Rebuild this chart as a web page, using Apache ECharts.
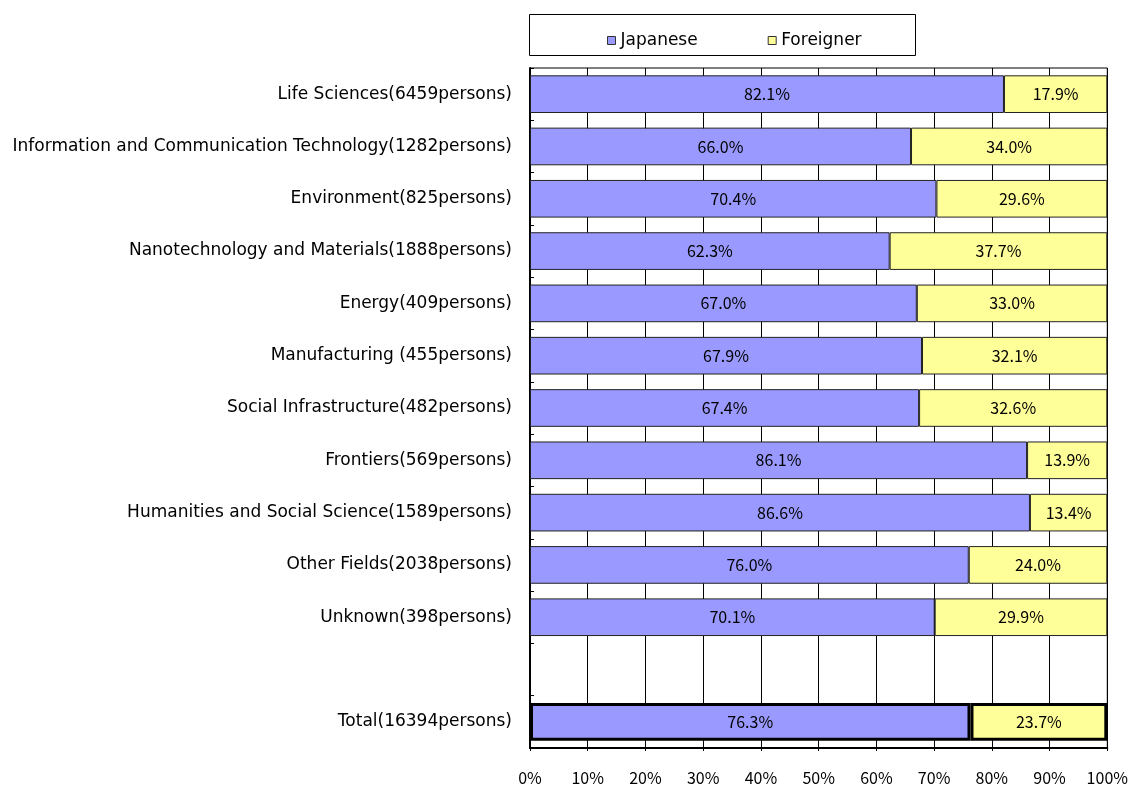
<!DOCTYPE html>
<html><head><meta charset="utf-8">
<script src="https://cdn.jsdelivr.net/npm/echarts@6/dist/echarts.min.js"></script>
<style>html,body{margin:0;padding:0;background:#fff}#c{width:1131px;height:787px}</style>
</head><body><div id="c"></div>
<script>
const categories = [
  "Life Sciences(6459persons)",
  "Information and Communication Technology(1282persons)",
  "Environment(825persons)",
  "Nanotechnology and Materials(1888persons)",
  "Energy(409persons)",
  "Manufacturing (455persons)",
  "Social Infrastructure(482persons)",
  "Frontiers(569persons)",
  "Humanities and Social Science(1589persons)",
  "Other Fields(2038persons)",
  "Unknown(398persons)",
  "",
  "Total(16394persons)"
];
const japanese = [82.1, 66.0, 70.4, 62.3, 67.0, 67.9, 67.4, 86.1, 86.6, 76.0, 70.1, null, 76.3];
const foreigner = [17.9, 34.0, 29.6, 37.7, 33.0, 32.1, 32.6, 13.9, 13.4, 24.0, 29.9, null, 23.7];
const xTicks = [0, 10, 20, 30, 40, 50, 60, 70, 80, 90, 100];

const FONT = '"Noto Sans CJK JP", "Noto Sans", sans-serif';
const WFONT = '"DejaVu Sans", sans-serif';
const totalIdx = categories.length - 1;
function mk(arr) {
  return arr.map((v, i) => {
    if (v === null) return '-';
    if (i === totalIdx) return { value: v, itemStyle: { borderWidth: 3, borderColor: '#000' } };
    return v;
  });
}
const chart = echarts.init(document.getElementById('c'));
chart.setOption({
  animation: false,
  backgroundColor: '#fff',
  textStyle: { fontFamily: FONT },
  grid: { left: 530, right: 23, top: 68, bottom: 39, show: true, borderColor: '#000', borderWidth: 1 },
  graphic: [{ type: 'rect', shape: { x: 529.5, y: 14.5, width: 386, height: 41 }, style: { fill: '#fff', stroke: '#000', lineWidth: 1 }, z: 0 }],
  legend: {
    left: 602, top: 27, icon: 'rect', itemWidth: 8, itemHeight: 8, itemGap: 70,
    textStyle: { fontFamily: WFONT, fontSize: 17, color: '#000' },
    itemStyle: { borderColor: '#333', borderWidth: 1 },
    data: ['Japanese', 'Foreigner'], z: 5
  },
  xAxis: {
    type: 'value', min: 0, max: 100, interval: 10,
    axisLine: { show: true, lineStyle: { color: '#000', width: 2 } },
    axisTick: { show: true, length: 3, lineStyle: { color: '#000' } },
    splitLine: { show: true, lineStyle: { color: '#000', width: 1 } },
    axisLabel: { formatter: v => xTicks.includes(v) ? v + '%' : '', fontSize: 16, color: '#000', margin: 22, fontFamily: FONT }
  },
  yAxis: {
    type: 'category', inverse: true, data: categories,
    axisLine: { show: true, lineStyle: { color: '#000', width: 2 } },
    axisTick: { show: true, inside: true, length: 4, lineStyle: { color: '#000' } },
    axisLabel: { fontSize: 17, color: '#000', margin: 18, fontFamily: WFONT, padding: [4, 0, 0, 0] }
  },
  series: [
    { name: 'Japanese', type: 'bar', stack: 's', barWidth: '72%', data: mk(japanese),
      itemStyle: { color: '#9999FF', borderColor: '#222', borderWidth: 1 },
      label: { show: true, position: 'inside', color: '#000', fontSize: 16, fontFamily: FONT, formatter: p => p.value.toFixed(1) + '%' } },
    { name: 'Foreigner', type: 'bar', stack: 's', barWidth: '72%', data: mk(foreigner),
      itemStyle: { color: '#FFFF99', borderColor: '#222', borderWidth: 1 },
      label: { show: true, position: 'inside', color: '#000', fontSize: 16, fontFamily: FONT, formatter: p => p.value.toFixed(1) + '%' } }
  ]
});
</script></body></html>
